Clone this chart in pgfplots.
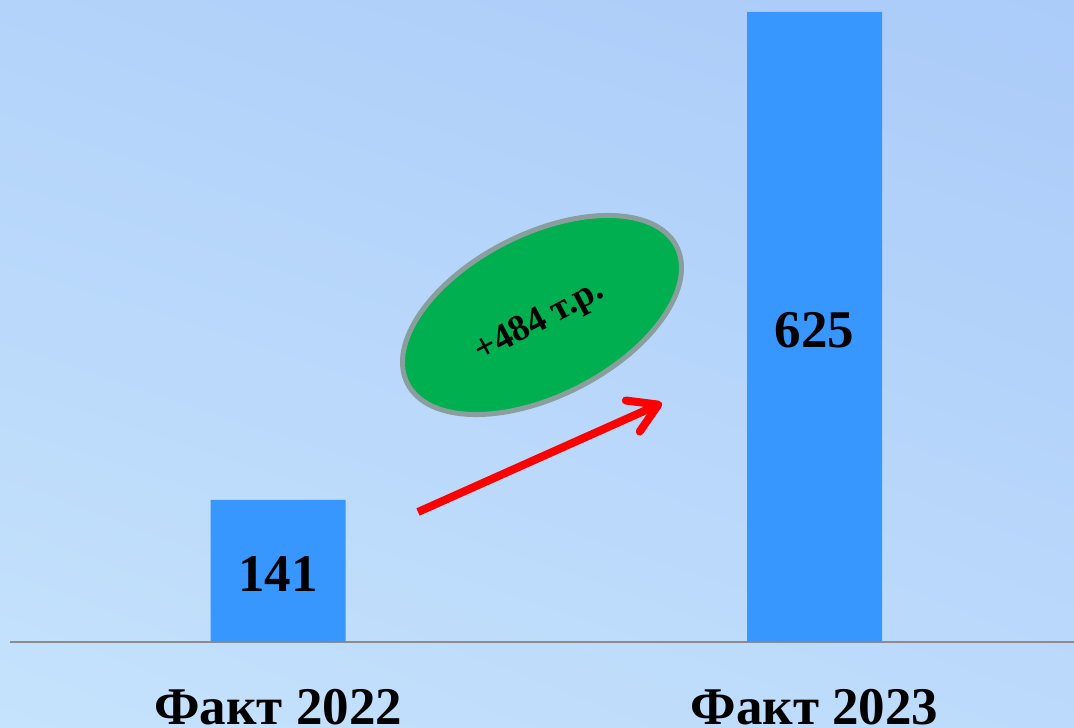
\documentclass[border=0pt]{standalone}
\usepackage{pgfplots}
\pgfplotsset{compat=1.18}
\usepackage{fontspec}
\setmainfont{Liberation Serif}
\usetikzlibrary{arrows.meta,shadings}
\definecolor{barblue}{HTML}{3797FF}
\definecolor{axisgray}{HTML}{8C8C8C}
\definecolor{ellgreen}{HTML}{00AF50}
\definecolor{ellgray}{HTML}{8A9E9E}
\definecolor{bgtl}{HTML}{B3D3FA}
\definecolor{bgtr}{HTML}{ABCBF9}
\definecolor{bgbl}{HTML}{C5E3FC}
\definecolor{bgbr}{HTML}{BCDAFB}
\newcommand\bigbold{\bfseries\fontsize{53bp}{60bp}\selectfont}
\begin{document}
\begin{tikzpicture}[x=1bp,y=1bp]
\useasboundingbox (0,0) rectangle (1074,728);
\clip (0,0) rectangle (1074,728);
\shade[upper left=bgtl, upper right=bgtr, lower left=bgbl, lower right=bgbr] (0,0) rectangle (1074,728);
\begin{axis}[
  at={(10bp,86bp)}, anchor=south west,
  scale only axis, width=1064bp, height=642bp,
  xmin=-0.5, xmax=1.4837, ymin=0, ymax=636.9,
  axis x line*=bottom, axis y line=none,
  x axis line style={draw=axisgray, line width=2.5bp},
  xtick={0,1}, xticklabels={Факт 2022, Факт 2023},
  major tick length=0pt,
  xticklabel style={anchor=base, yshift=-83bp, font=\bigbold},
  /pgf/number format/assume math mode=true,
  ybar, bar width=135bp,
  clip=false,
]
\addplot[fill=barblue, draw=none,
  nodes near coords,
  visualization depends on={y/2 \as \half},
  every node near coord/.append style={anchor=center, font=\bigbold,
    shift={(axis direction cs:0,-\half-3)}},
] coordinates {(0,141) (1,625)};
\end{axis}
\draw[fill=ellgreen, draw=ellgray, line width=5bp, rotate around={27:(542,413)}]
  (542,413) ellipse [x radius=151bp, y radius=81bp];
\node[rotate=28, font=\bfseries\fontsize{37bp}{40bp}\selectfont] at (540,406) {+484 т.р.};
\draw[red, line width=8bp, -{Straight Barb[length=28bp, width=34bp, round]}]
  (418,216) -- (662,325);
\end{tikzpicture}
\end{document}
